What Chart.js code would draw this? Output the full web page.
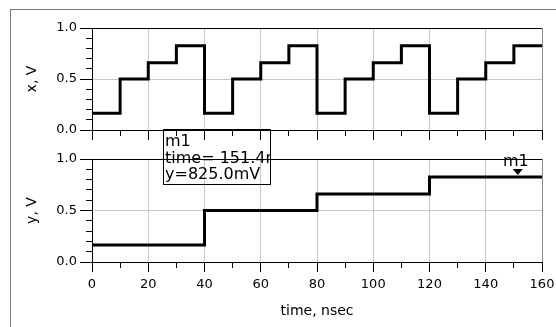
<!DOCTYPE html>
<html><head><meta charset="utf-8">
<script src="https://cdn.jsdelivr.net/npm/chart.js@4"></script>
<style>
html,body{margin:0;padding:0;background:#fff;}
body{width:556px;height:327px;position:relative;overflow:hidden;}
#frame{position:absolute;left:10px;top:9px;width:700px;height:500px;border-left:1px solid #7a7a7a;border-top:1px solid #7a7a7a;}
#c1{position:absolute;left:0;top:0;}
#c2{position:absolute;left:0;top:120px;}
</style></head><body>
<div id="frame"></div>
<canvas id="c1" width="556" height="150"></canvas>
<canvas id="c2" width="556" height="207"></canvas>
<script>
// ---- data ----
const xTime   = [0,10,20,30,40,50,60,70,80,90,100,110,120,130,140,150,160];
const xValues = [0.165,0.5,0.66,0.825,0.165,0.5,0.66,0.825,0.165,0.5,0.66,0.825,0.165,0.5,0.66,0.825,0.825];
const yTime   = [0,40,80,120,160];
const yValues = [0.165,0.5,0.66,0.825,0.825];
const timeTicks = [0,20,40,60,80,100,120,140,160];
const voltTicks = [0.0,0.5,1.0];
const timeMinorStep = 10;
const voltMinorStep = 0.1;
const markerName = 'm1';
const markerTime = 151.4;
const markerValue = 0.825;
const markerLines = ['m1', 'time= 151.4nsec', 'y=825.0mV'];

Chart.defaults.font.family = 'DejaVu Sans';
Chart.defaults.color = '#000';

function align(p){ return Math.round(p - 0.5) + 0.5; }

const frameTicks = {
  id: 'frameTicks',
  afterDraw(chart) {
    const {ctx, chartArea: a, scales: {x, y}} = chart;
    ctx.save();
    ctx.strokeStyle = '#000'; ctx.lineWidth = 1;
    ctx.beginPath();
    const nV = Math.round(1 / voltMinorStep);
    for (let i = 0; i <= nV; i++) {
      const v = i * voltMinorStep;
      const py = align(y.getPixelForValue(v));
      const major = voltTicks.some(t => Math.abs(t - v) < 1e-6);
      const len = major ? 12 : 6;
      ctx.moveTo(a.left - len, py); ctx.lineTo(a.left, py);
    }
    for (let t = 0; t <= 160; t += timeMinorStep) {
      const px = align(x.getPixelForValue(t));
      const len = timeTicks.includes(t) ? 10 : 6;
      ctx.moveTo(px, a.bottom); ctx.lineTo(px, a.bottom + len);
    }
    const ty = align(a.top);
    ctx.moveTo(a.left, ty); ctx.lineTo(a.right, ty);
    ctx.stroke();
    ctx.strokeStyle = '#8a8a8a';
    ctx.beginPath();
    const rx = align(a.right);
    ctx.moveTo(rx, a.top); ctx.lineTo(rx, a.bottom);
    ctx.stroke();
    ctx.restore();
  }
};

const markerPlugin = {
  id: 'marker',
  afterDraw(chart) {
    const {ctx, chartArea: a, scales: {x, y}} = chart;
    const px = x.getPixelForValue(markerTime);
    const py = y.getPixelForValue(markerValue);
    ctx.save();
    ctx.fillStyle = '#000';
    ctx.beginPath();
    ctx.moveTo(px - 5, py - 8);
    ctx.lineTo(px + 5, py - 8);
    ctx.lineTo(px, py - 2);
    ctx.closePath();
    ctx.fill();
    ctx.font = '16px "DejaVu Sans"';
    ctx.textAlign = 'center';
    ctx.textBaseline = 'alphabetic';
    ctx.fillText(markerName, px - 2, py - 11);
    const bx = a.left + 71.5, by = a.top - 29.5, bw = 107, bh = 55;
    ctx.strokeStyle = '#000'; ctx.lineWidth = 1;
    ctx.strokeRect(bx, by, bw, bh);
    ctx.beginPath(); ctx.rect(bx, by, bw, bh); ctx.clip();
    ctx.textAlign = 'left';
    markerLines.forEach((s, i) => ctx.fillText(s, bx + 1.5, by + 16.5 + i * 16.5));
    ctx.restore();
  }
};

function makeChart(id, times, values, opts) {
  return new Chart(document.getElementById(id), {
    type: 'line',
    data: { datasets: [{
      data: times.map((t, i) => ({x: t, y: values[i]})),
      borderColor: '#000', borderWidth: 3, pointRadius: 0,
      stepped: true, fill: false, borderCapStyle: 'butt', borderJoinStyle: 'miter'
    }]},
    options: {
      responsive: false, animation: false, devicePixelRatio: 1, events: [],
      layout: { padding: { left: 0, right: 14, top: opts.top, bottom: 0 } },
      plugins: { legend: {display: false}, tooltip: {enabled: false} },
      scales: {
        x: {
          type: 'linear', min: 0, max: 160,
          afterBuildTicks: s => { s.ticks = timeTicks.map(v => ({value: v})); },
          afterFit: s => { s.height = opts.xHeight; s.paddingLeft = 0; s.paddingRight = 0; },
          grid: { color: '#c8c8c8', drawTicks: false },
          border: { display: true, color: '#000', width: 1 },
          ticks: { display: opts.xLabels, padding: 15, font: {size: 13}, color: '#000', maxRotation: 0 },
          title: { display: opts.xLabels, text: 'time, nsec', font: {size: 14}, color: '#000', padding: {top: 0, bottom: 7} }
        },
        y: {
          type: 'linear', min: 0, max: 1,
          afterBuildTicks: s => { s.ticks = voltTicks.map(v => ({value: v})); },
          afterFit: s => { s.width = 92; s.paddingTop = 0; s.paddingBottom = 0; },
          grid: { color: '#c8c8c8', drawTicks: false },
          border: { display: true, color: '#000', width: 1 },
          ticks: { padding: 15, font: {size: 13}, color: '#000', callback: v => v.toFixed(1) },
          title: { display: true, text: opts.yTitle, font: {size: 14}, color: '#000', padding: {top: 24, bottom: 0} }
        }
      }
    },
    plugins: opts.plugins
  });
}

makeChart('c1', xTime, xValues, { top: 28, xHeight: 20, xLabels: false, yTitle: 'x, V', plugins: [frameTicks] });
makeChart('c2', yTime, yValues, { top: 39, xHeight: 65, xLabels: true, yTitle: 'y, V', plugins: [frameTicks, markerPlugin] });
</script>
</body></html>
